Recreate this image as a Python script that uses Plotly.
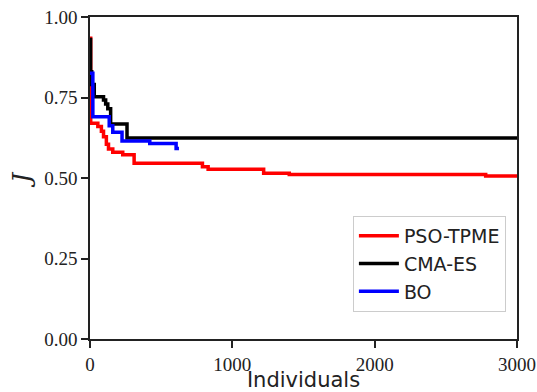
import plotly.graph_objects as go

# PSO-TPME
pso_x = [0, 5, 55, 80, 95, 115, 130, 160, 230, 310, 790, 830, 1220, 1400, 2780, 3000]
pso_y = [0.934, 0.67, 0.66, 0.645, 0.628, 0.605, 0.59, 0.58, 0.572, 0.546, 0.535, 0.527, 0.515, 0.511, 0.506, 0.506]
# CMA-ES
cma_x = [0, 4, 12, 30, 95, 110, 125, 145, 260, 3000]
cma_y = [0.93, 0.83, 0.79, 0.752, 0.742, 0.73, 0.715, 0.668, 0.624, 0.624]
# BO
bo_x = [0, 20, 135, 160, 225, 420, 605, 625]
bo_y = [0.825, 0.69, 0.662, 0.642, 0.615, 0.607, 0.592, 0.592]

x_ticks = [0, 1000, 2000, 3000]
y_ticks = [0.0, 0.25, 0.5, 0.75, 1.0]
y_tick_text = ["0.00", "0.25", "0.50", "0.75", "1.00"]

SERIF = "Liberation Serif"
SANS = "DejaVu Sans"

fig = go.Figure()
fig.add_trace(go.Scatter(x=pso_x, y=pso_y, mode="lines", line_shape="hv",
                         line=dict(color="#ff0000", width=3.5), name="PSO-TPME"))
fig.add_trace(go.Scatter(x=cma_x, y=cma_y, mode="lines", line_shape="hv",
                         line=dict(color="#000000", width=3.5), name="CMA-ES"))
fig.add_trace(go.Scatter(x=bo_x, y=bo_y, mode="lines", line_shape="hv",
                         line=dict(color="#0000ff", width=3.5), name="BO"))

axis_common = dict(showgrid=False, zeroline=False, showline=True, linecolor="#222",
                   linewidth=1.6, mirror=True, ticks="outside", ticklen=7, tickwidth=1.5,
                   tickcolor="#222", automargin=False, ticklabeloverflow="allow",
                   tickfont=dict(family=SERIF, size=19, color="#222"))

fig.update_layout(
    width=537, height=392,
    margin=dict(l=90, r=20, t=17, b=53),
    paper_bgcolor="white", plot_bgcolor="white",
    font=dict(family=SERIF),
    xaxis=dict(range=[0, 3000], tickvals=x_ticks,
               title=dict(text="Individuals", font=dict(family=SANS, size=21, color="#222"), standoff=2),
               **axis_common),
    yaxis=dict(range=[0, 1], tickvals=y_ticks, ticktext=y_tick_text,
               title=dict(text="<i>J</i>", font=dict(family="DejaVu Serif", size=25, color="#222"), standoff=6),
               **axis_common),
    legend=dict(x=0.974, y=0.084, xanchor="right", yanchor="bottom",
                bgcolor="white", bordercolor="#cccccc", borderwidth=1,
                font=dict(family=SANS, size=19, color="#222"),
                tracegroupgap=0, itemwidth=40, entrywidth=112, entrywidthmode="pixels"),
    showlegend=True,
)

fig.write_html("out.html")
